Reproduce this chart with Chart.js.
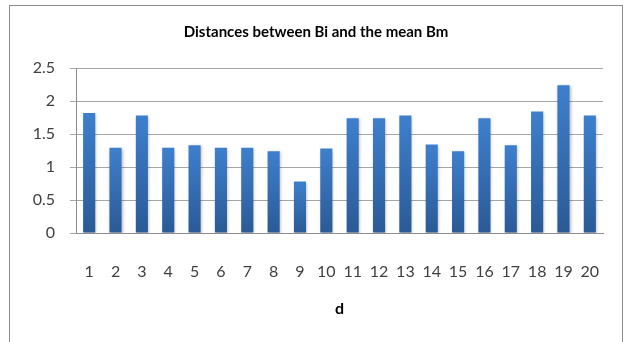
<!DOCTYPE html>
<html>
<head>
<meta charset="utf-8">
<script src="https://cdn.jsdelivr.net/npm/chart.js@4.4.1/dist/chart.umd.min.js"></script>
<style>
  body { margin: 0; background: #fff; }
  #wrap { position: relative; width: 624px; height: 342px; }
  #frame { position: absolute; left: 9px; top: 5px; width: 612px; height: 345px; border: 1px solid #8c8c8c; pointer-events: none; }
</style>
</head>
<body>
<div id="wrap">
  <canvas id="chart" width="624" height="342"></canvas>
  <div id="frame"></div>
</div>
<script>
// Datos
const labels = ["1","2","3","4","5","6","7","8","9","10","11","12","13","14","15","16","17","18","19","20"];
const distances = [1.82, 1.29, 1.78, 1.29, 1.33, 1.29, 1.29, 1.24, 0.78, 1.28,
                   1.74, 1.74, 1.78, 1.34, 1.24, 1.74, 1.33, 1.84, 2.24, 1.78];
const chartTitle = "Distances between Bi and the mean Bm";
const xTitle = "d";

// Degradado por barra: claro arriba, oscuro abajo
const barGradient = (ctx) => {
  const chart = ctx.chart;
  const yScale = chart.scales.y;
  if (!chart.chartArea || !yScale || ctx.parsed == null) return "#3570b8";
  const top = yScale.getPixelForValue(ctx.parsed.y);
  const bottom = yScale.getPixelForValue(0);
  const g = chart.ctx.createLinearGradient(0, top, 0, bottom);
  g.addColorStop(0, "#3e7fcd");
  g.addColorStop(1, "#2a5a96");
  return g;
};

// Sombra suave de las barras
const barShadow = {
  id: "barShadow",
  beforeDatasetsDraw(chart) {
    const c = chart.ctx;
    c.save();
    c.shadowColor = "rgba(0,0,0,0.28)";
    c.shadowBlur = 3;
    c.shadowOffsetX = 1;
    c.shadowOffsetY = 1;
  },
  afterDatasetsDraw(chart) {
    chart.ctx.restore();
  }
};

new Chart(document.getElementById("chart"), {
  type: "bar",
  data: {
    labels,
    datasets: [{
      label: chartTitle,
      data: distances,
      backgroundColor: barGradient,
      borderWidth: 0,
      categoryPercentage: 1,
      barPercentage: 0.46
    }]
  },
  options: {
    responsive: false,
    animation: false,
    layout: { padding: { left: 29, right: 21, top: 0, bottom: 0 } },
    plugins: {
      legend: { display: false },
      tooltip: { enabled: false },
      title: {
        display: true,
        text: chartTitle,
        color: "#000",
        font: { family: "Lato", size: 15, weight: "bold" },
        padding: { top: 23, bottom: 27 }
      }
    },
    scales: {
      x: {
        // marcas invisibles para bajar las etiquetas sin achicar el area
        grid: { display: true, drawOnChartArea: false, drawTicks: true, tickLength: 29, tickColor: "rgba(0,0,0,0)" },
        border: { display: true, color: "#8c8c8c", width: 1 },
        ticks: {
          color: "#404040",
          font: { family: "Lato", size: 16 },
          padding: 0,
          maxRotation: 0,
          autoSkip: false
        },
        title: {
          display: true,
          text: xTitle,
          color: "#000",
          font: { family: "Lato", size: 16, weight: "bold" },
          padding: { top: 0, bottom: 24 }
        },
        afterFit: (scale) => { scale.height = 109; }
      },
      y: {
        min: 0,
        max: 2.5,
        ticks: {
          stepSize: 0.5,
          color: "#404040",
          font: { family: "Lato", size: 16 },
          padding: 15,
          callback: (v) => String(v)
        },
        grid: { color: "#a6a6a6", tickLength: 6, tickColor: "#a6a6a6" },
        border: { display: true, color: "#8c8c8c", width: 1 },
        afterFit: (scale) => { scale.width = 47; }
      }
    }
  },
  plugins: [barShadow]
});
</script>
</body>
</html>
